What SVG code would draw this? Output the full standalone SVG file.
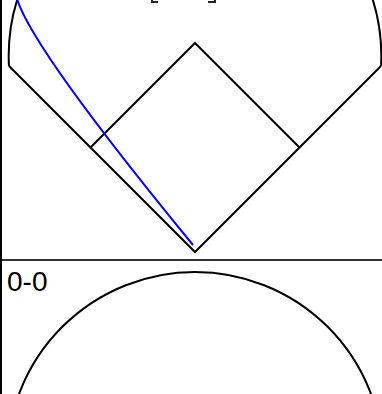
<svg xmlns="http://www.w3.org/2000/svg" width="382" height="394" viewBox="0 0 382 394">
<style>
.ln{fill:none;stroke:#000;stroke-width:2;stroke-linejoin:miter}
.hit{fill:none;stroke:#0000ff;stroke-width:2}
.lbl{font-family:"Liberation Sans",Arial,sans-serif;font-size:28px;fill:#000}
</style>
<rect width="382" height="394" fill="#fff"/>
<g id="field">
<path class="ln" d="M9 66 A186.3 186.3 0 1 1 381 66"/>
<path class="ln" d="M9 66 L195 252 L381 66"/>
<path class="ln" d="M90.5 147.5 L195 43 L299.5 147.5"/>
<path d="M152 0 V2 H158 M208 2 H215 V0" fill="none" stroke="#222" stroke-width="2"/>
</g>
<g id="hit">
<path class="hit" d="M193 245 Q33 50 17 -1"/>
</g>
<g id="divider">
<line x1="0" y1="260" x2="382" y2="260" stroke="#333" stroke-width="2"/>
<line x1="1" y1="0" x2="1" y2="394" stroke="#000" stroke-width="2"/>
</g>
<g id="count">
<text class="lbl" x="7" y="291">0-0</text>
<circle class="ln" cx="195" cy="460" r="188" stroke-width="1.6"/>
</g>
</svg>
